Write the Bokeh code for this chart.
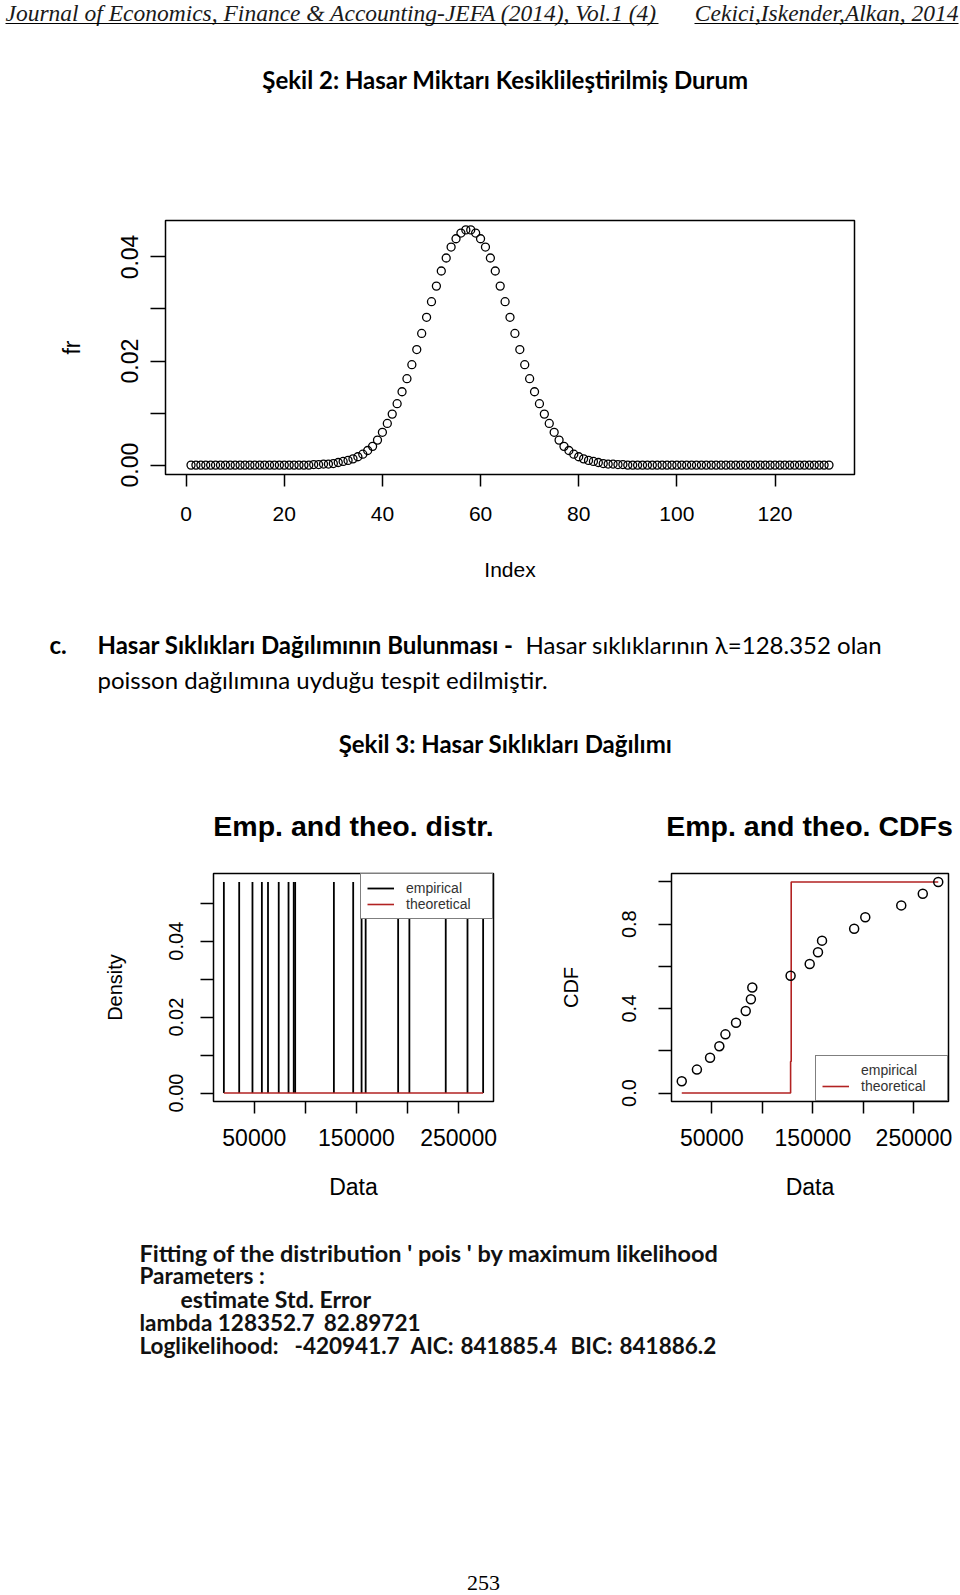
from bokeh.plotting import figure
from bokeh.models import Range1d, FixedTicker, Legend, LegendItem
from bokeh.layouts import column, row
from bokeh.embed import file_html
from bokeh.resources import INLINE
from bokeh.core.properties import value

# ---------------- data ----------------
fr_index = list(range(1, 132))
fr_values = [
    0.0, 0.0, 0.0, 0.0, 0.0, 0.0, 0.0, 0.0, 0.0, 0.0,
    0.0, 0.0, 0.0, 0.0, 0.0, 0.0, 0.0, 0.0, 0.0, 0.0,
    0.0, 0.0, 0.0, 0.0, 0.0,
    0.0001, 0.0001, 0.0002, 0.0002, 0.0003, 0.0005, 0.0007, 0.0009, 0.0012, 0.0016,
    0.0021, 0.0028, 0.0036, 0.0048, 0.0063, 0.0080, 0.0098, 0.0118, 0.0141, 0.0166,
    0.0193, 0.0222, 0.0253, 0.0284, 0.0314, 0.0344, 0.0373, 0.0398, 0.0419, 0.0435,
    0.0446, 0.0452, 0.0452, 0.0446, 0.0435, 0.0419, 0.0398, 0.0373, 0.0344, 0.0314,
    0.0284, 0.0253, 0.0222, 0.0193, 0.0166, 0.0141, 0.0118, 0.0098, 0.0080, 0.0063,
    0.0048, 0.0036, 0.0028, 0.0021, 0.0016, 0.0012, 0.0009, 0.0007, 0.0005, 0.0003,
    0.0002, 0.0002, 0.0001, 0.0001,
    0.0, 0.0, 0.0, 0.0, 0.0, 0.0, 0.0, 0.0, 0.0, 0.0,
    0.0, 0.0, 0.0, 0.0, 0.0, 0.0, 0.0, 0.0, 0.0, 0.0,
    0.0, 0.0, 0.0, 0.0, 0.0, 0.0, 0.0, 0.0, 0.0, 0.0,
    0.0, 0.0, 0.0, 0.0, 0.0, 0.0, 0.0, 0.0, 0.0, 0.0,
    0.0, 0.0,
]
top_xticks = [0, 20, 40, 60, 80, 100, 120]
top_xtick_labels = ["0", "20", "40", "60", "80", "100", "120"]
top_yticks = [0.0, 0.01, 0.02, 0.03, 0.04]
top_ytick_labels = ["0.00", "", "0.02", "", "0.04"]

claim_data = [20200, 35200, 48200, 57400, 63400, 73900, 83500, 88600, 90000,
              127900, 146800, 155000, 159000, 190800, 201800, 237400, 258700, 274000]
emp_density = [0.0556, 0.0556, 0.0556, 0.0556, 0.0556, 0.0556, 0.0556, 0.0556, 0.0556,
               0.0556, 0.0556, 0.0556, 0.0556, 0.0556, 0.0556, 0.0556, 0.0556, 0.0556]
emp_cdf = [0.056, 0.111, 0.167, 0.222, 0.278, 0.333, 0.389, 0.444, 0.500,
           0.556, 0.611, 0.667, 0.722, 0.778, 0.833, 0.889, 0.944, 1.000]
theo_density_x = [20200, 274000]
theo_density_y = [0.0, 0.0]
theo_cdf_x = [20200, 127900, 127900, 128500, 128500, 274000]
theo_cdf_y = [0.0, 0.0, 0.15, 0.15, 1.0, 1.0]

data_xticks = [50000, 100000, 150000, 200000, 250000]
data_xtick_labels = ["50000", "", "150000", "", "250000"]
dens_yticks = [0.0, 0.01, 0.02, 0.03, 0.04, 0.05]
dens_ytick_labels = ["0.00", "", "0.02", "", "0.04", ""]
cdf_yticks = [0.0, 0.2, 0.4, 0.6, 0.8, 1.0]
cdf_ytick_labels = ["0.0", "", "0.4", "", "0.8", ""]

RED = "#b22222"
SANS = "Liberation Sans"


def padded(lo, hi):
    r = hi - lo
    return lo - 0.04 * r, hi + 0.04 * r


def style_axis(ax, ticks, labels, tick_out, size, standoff, title, title_standoff,
               title_size, vertical=False):
    ax.ticker = FixedTicker(ticks=ticks)
    ax.major_label_overrides = {t: l for t, l in zip(ticks, labels)}
    ax.major_tick_out = tick_out
    ax.major_tick_in = 0
    ax.minor_tick_line_color = None
    ax.axis_line_color = None
    ax.major_tick_line_color = "black"
    ax.major_tick_line_width = 1.5
    ax.major_label_text_font = SANS
    ax.major_label_text_font_size = f"{size}px"
    ax.major_label_text_color = "black"
    ax.major_label_standoff = standoff
    if vertical:
        ax.major_label_orientation = "vertical"
    ax.axis_label = title
    ax.axis_label_text_font = SANS
    ax.axis_label_text_font_size = f"{title_size}px"
    ax.axis_label_text_font_style = "normal"
    ax.axis_label_text_color = "black"
    ax.axis_label_standoff = title_standoff


def text_fig(y_top, height):
    p = figure(width=960, height=height, x_range=Range1d(0, 960),
               y_range=Range1d(y_top + height, y_top), x_axis_type=None,
               y_axis_type=None, toolbar_location=None, output_backend="svg",
               min_border=0, outline_line_color=None)
    p.grid.visible = False
    return p


def put(p, x, y, s, font="Lato", size=19, style="normal", align="left",
        baseline="middle", color="black"):
    p.text(x=[x], y=[y], text=[s], text_font=value(font),
           text_font_size=f"{size}px", text_font_style=style, text_align=align,
           text_baseline=baseline, text_color=color)


# ---------------- A: header and figure 2 title (0-180) ----------------
pa = text_fig(0, 180)
put(pa, 5, 12, "Journal of Economics, Finance & Accounting-JEFA (2014), Vol.1 (4)",
    font="Liberation Serif", size=23.5, style="italic", color="#1a1a1a")
put(pa, 958, 12, "Cekici,Iskender,Alkan, 2014", font="Liberation Serif", size=23.5,
    style="italic", align="right", color="#1a1a1a")
pa.segment(x0=[5, 694], y0=[23, 23], x1=[658, 958], y1=[23, 23],
           line_color="black", line_width=1)
put(pa, 505, 79, "Şekil 2: Hasar Miktarı Kesiklileştirilmiş Durum", size=24,
    style="bold", align="center")

# ---------------- B: fr vs Index (180-600) ----------------
bx0, bx1 = padded(min(fr_index), max(fr_index))
by0, by1 = padded(min(fr_values), max(fr_values))
pb = figure(width=960, height=420, x_range=Range1d(bx0, bx1), y_range=Range1d(by0, by1),
            toolbar_location=None, output_backend="svg",
            min_border_left=165, min_border_right=106, min_border_top=40,
            min_border_bottom=126, outline_line_color="black", outline_line_width=1.5)
pb.grid.visible = False
pb.scatter(fr_index, fr_values, marker="circle", size=8, fill_color=None,
           line_color="black", line_width=1.3)
style_axis(pb.xaxis[0], top_xticks, top_xtick_labels, 12, 21, 20, "Index", 34, 21)
style_axis(pb.yaxis[0], top_yticks, top_ytick_labels, 15, 23, 12, "fr", 34, 23,
           vertical=True)

# ---------------- C: text, figure 3 title, subplot titles (600-860) ----------------
pc = text_fig(600, 260)
put(pc, 49, 644, "c.", size=24, style="bold")
put(pc, 97, 644, "Hasar Sıklıkları Dağılımının Bulunması -", size=24, style="bold")
put(pc, 525, 644, "Hasar sıklıklarının λ=128.352 olan", size=24)
put(pc, 97, 679, "poisson dağılımına uyduğu tespit edilmiştir.", size=24)
put(pc, 505, 743, "Şekil 3: Hasar Sıklıkları Dağılımı", size=24, style="bold",
    align="center")
put(pc, 353, 825, "Emp. and theo. distr.", font=SANS, size=28.5, style="bold",
    align="center")
put(pc, 809, 825, "Emp. and theo. CDFs", font=SANS, size=28.5, style="bold",
    align="center")

# ---------------- D: density and CDF plots (860-1210) ----------------
dx0, dx1 = padded(min(claim_data), max(claim_data))
dy0, dy1 = padded(0.0, max(emp_density))
pl = figure(width=540, height=350, x_range=Range1d(dx0, dx1), y_range=Range1d(dy0, dy1),
            toolbar_location=None, output_backend="svg",
            min_border_left=213, min_border_right=47, min_border_top=13,
            min_border_bottom=109, outline_line_color="black", outline_line_width=1.5)
pl.grid.visible = False
zeros = [0.0 for _ in claim_data]
r_emp = pl.segment(x0=claim_data, y0=zeros, x1=claim_data, y1=emp_density,
                   line_color="black", line_width=1.8)
r_theo = pl.line(theo_density_x, theo_density_y, line_color=RED, line_width=1.6)
style_axis(pl.xaxis[0], data_xticks, data_xtick_labels, 12, 23, 15, "Data", 25, 23)
style_axis(pl.yaxis[0], dens_yticks, dens_ytick_labels, 13, 20, 17, "Density", 41, 20,
           vertical=True)

cy0, cy1 = padded(0.0, 1.0)
pr = figure(width=420, height=350, x_range=Range1d(dx0, dx1), y_range=Range1d(cy0, cy1),
            toolbar_location=None, output_backend="svg",
            min_border_left=131, min_border_right=12, min_border_top=13,
            min_border_bottom=109, outline_line_color="black", outline_line_width=1.5)
pr.grid.visible = False
r_ctheo = pr.line(theo_cdf_x, theo_cdf_y, line_color=RED, line_width=1.6)
pr.scatter(claim_data, emp_cdf, marker="circle", size=9, fill_color=None,
           line_color="black", line_width=1.5)
r_cemp = pr.line(x=[], y=[], line_color="black", line_width=1.6)
style_axis(pr.xaxis[0], data_xticks, data_xtick_labels, 12, 23, 15, "Data", 25, 23)
style_axis(pr.yaxis[0], cdf_yticks, cdf_ytick_labels, 13, 20, 22, "CDF", 38, 20,
           vertical=True)


def add_legend(p, items, loc):
    lg = Legend(items=[LegendItem(label=l, renderers=[r]) for l, r in items],
                location=loc, margin=0, padding=6, spacing=-3,
                border_line_color="black", border_line_width=1.5,
                background_fill_color="white", background_fill_alpha=1.0,
                label_text_font=SANS, label_text_font_size="14px",
                label_text_color="#333333", label_height=12, glyph_height=12,
                glyph_width=27, label_standoff=12, label_width=80)
    p.add_layout(lg)


add_legend(pl, [("empirical", r_emp), ("theoretical", r_theo)], "top_right")
add_legend(pr, [("empirical", r_cemp), ("theoretical", r_ctheo)], "bottom_right")

# ---------------- E: fit output and page number (1210-1595) ----------------
pe = text_fig(1210, 385)
FIT_C = "#111111"
put(pe, 139, 1252, "Fitting of the distribution ' pois ' by maximum likelihood",
    size=23.5, style="bold", color=FIT_C)
put(pe, 139, 1275, "Parameters :", size=22.5, style="bold", color=FIT_C)
put(pe, 180, 1298, "estimate Std. Error", size=23, style="bold", color=FIT_C)
fit_rows = [
    (139, 1322, "lambda 128352.7"),
    (139, 1345, "Loglikelihood:"),
    (294, 1345, "-420941.7"),
    (410, 1345, "AIC:"),
    (460, 1345, "841885.4"),
    (570, 1345, "BIC:"),
    (619, 1345, "841886.2"),
]
for fx, fy, s in fit_rows:
    put(pe, fx, fy, s, size=22.5, style="bold", color=FIT_C)
put(pe, 420, 1322, "82.89721", size=22.5, style="bold", color=FIT_C, align="right")
put(pe, 483, 1582, "253", font="Liberation Serif", size=22, align="center")

layout = column(pa, row(pb), pc, row(pl, pr), pe)
open("out.html", "w").write(file_html(layout, INLINE))
